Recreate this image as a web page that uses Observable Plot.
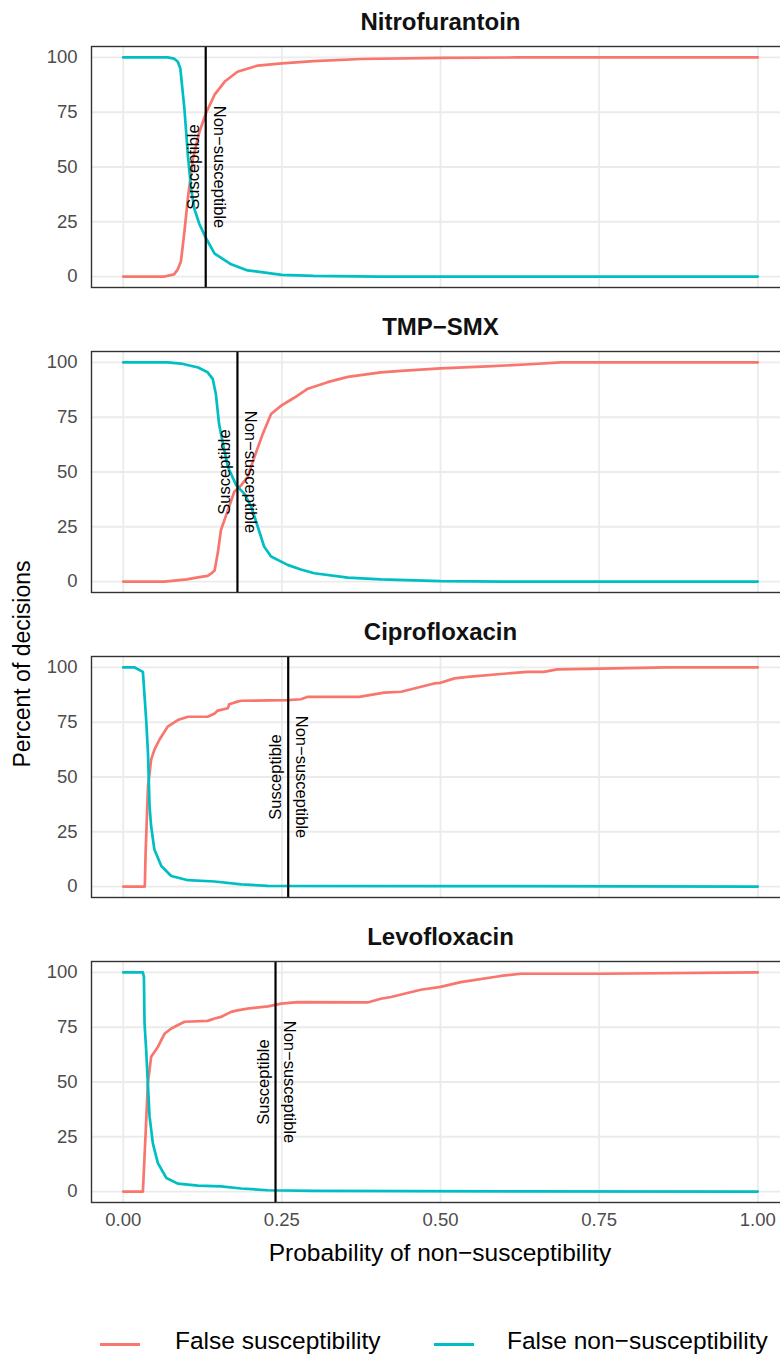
<!DOCTYPE html>
<html>
<head>
<meta charset="utf-8">
<script src="https://cdn.jsdelivr.net/npm/d3@7"></script>
<script src="https://cdn.jsdelivr.net/npm/@observablehq/plot@0.6"></script>
<style>
  html, body { margin: 0; padding: 0; background: white; }
  #wrap { position: relative; width: 780px; height: 1355px; overflow: hidden; font-family: "Liberation Sans", Arial, sans-serif; background: white; }
  #chart { position: absolute; left: 0; top: 0; }
  .lab { position: absolute; white-space: nowrap; color: #000; line-height: 1; }
  .sw { position: absolute; height: 3px; }
</style>
</head>
<body>
<div id="wrap">
  <div id="chart"></div>
  <div class="lab" id="ylab" style="left:22px; top:664px; font-size:23px; transform: translate(-50%,-50%) rotate(-90deg);">Percent of decisions</div>
  <div class="lab" id="xlab" style="left:440px; top:1253px; font-size:24.5px; transform: translate(-50%,-50%);">Probability of non−susceptibility</div>
  <div class="sw" style="left:100px; top:1343px; width:40px; background:#F8766D;"></div>
  <div class="lab" style="left:175px; top:1341px; font-size:24.5px; transform: translateY(-50%);">False susceptibility</div>
  <div class="sw" style="left:434px; top:1343px; width:40px; background:#00BFC4;"></div>
  <div class="lab" style="left:507px; top:1341px; font-size:24.5px; transform: translateY(-50%);">False non−susceptibility</div>
</div>
<script>
// ---------- data ----------
const drugs = ["Nitrofurantoin", "TMP−SMX", "Ciprofloxacin", "Levofloxacin"];
const thresholds = [0.13, 0.18, 0.26, 0.24];
const seriesNames = ["False susceptibility", "False non−susceptibility"];
const seriesColors = ["#F8766D", "#00BFC4"];
const xTicks = [0, 0.25, 0.5, 0.75, 1];
const yTicks = [0, 25, 50, 75, 100];

// [probability threshold, percent]
const nitroFalseSus = [[0,0],[0.065,0],[0.08,1],[0.086,3.3],[0.091,7],[0.0966,21],[0.102,36],[0.11,54],[0.12,66],[0.131,75],[0.144,83],[0.16,89],[0.18,93.5],[0.212,96.3],[0.25,97.3],[0.3,98.3],[0.375,99.3],[0.5,99.8],[0.62,100],[1,100]];
const nitroFalseNonSus = [[0,100],[0.07,100],[0.08,99.5],[0.086,98],[0.09,95],[0.0966,76],[0.102,55],[0.107,40],[0.112,31],[0.12,24],[0.13,17.7],[0.144,10.5],[0.17,5.6],[0.196,2.8],[0.25,0.8],[0.3,0.3],[0.4,0],[1,0]];

const tmpFalseSus = [[0,0],[0.065,0],[0.1,1],[0.12,2],[0.133,2.6],[0.14,4],[0.144,5],[0.149,13],[0.154,23.5],[0.165,32.6],[0.175,41],[0.186,44],[0.196,47.7],[0.207,57],[0.22,67.5],[0.233,76.5],[0.249,80.3],[0.27,84],[0.291,88],[0.322,91],[0.354,93.4],[0.406,95.5],[0.438,96.2],[0.5,97.3],[0.574,98.2],[0.648,99.3],[0.69,100],[1,100]];
const tmpFalseNonSus = [[0,100],[0.07,100],[0.091,99.5],[0.118,97.7],[0.133,95.5],[0.141,92.5],[0.146,85.6],[0.151,72],[0.157,63],[0.165,52.3],[0.178,44],[0.191,40],[0.202,34],[0.212,25],[0.222,16],[0.233,11.4],[0.259,7.6],[0.28,5.5],[0.301,3.8],[0.354,1.8],[0.406,1],[0.5,0.2],[0.6,0],[1,0]];

const ciproFalseSus = [[0,0],[0.034,0],[0.0353,15.5],[0.039,45.7],[0.044,57.9],[0.049,62.4],[0.057,67],[0.07,73],[0.086,76],[0.102,77.5],[0.133,77.5],[0.144,79],[0.149,80.3],[0.165,81.4],[0.167,83.2],[0.18,84.4],[0.186,84.8],[0.259,85.1],[0.28,85.5],[0.291,86.6],[0.372,86.6],[0.411,88.5],[0.438,88.9],[0.49,92.7],[0.5,93],[0.522,95],[0.543,95.7],[0.595,97],[0.637,98],[0.663,98],[0.684,99.1],[0.753,99.5],[0.857,100],[1,100]];
const ciproFalseNonSus = [[0,100],[0.018,100],[0.031,98],[0.0362,76],[0.039,61],[0.0415,36.6],[0.044,27.5],[0.049,17],[0.06,9.4],[0.0756,4.8],[0.102,2.9],[0.144,2.3],[0.186,1],[0.228,0.3],[0.5,0.2],[1,0]];

const levoFalseSus = [[0,0],[0.031,0],[0.0336,16],[0.036,31],[0.0388,49.4],[0.044,61.5],[0.0546,66],[0.065,72],[0.0756,74.4],[0.0966,77.5],[0.133,77.9],[0.144,79],[0.154,79.7],[0.17,82],[0.18,82.7],[0.196,83.5],[0.228,84.5],[0.249,85.8],[0.275,86.5],[0.385,86.3],[0.406,88],[0.422,88.8],[0.469,92.1],[0.5,93.4],[0.532,95.6],[0.595,98.4],[0.627,99.4],[0.753,99.4],[1,100]];
const levoFalseNonSus = [[0,100],[0.031,100],[0.0326,98],[0.0336,76.7],[0.0362,64.5],[0.0388,49.4],[0.0415,34.3],[0.0467,22],[0.0546,13],[0.068,6.2],[0.086,3.6],[0.118,2.7],[0.154,2.4],[0.186,1.4],[0.228,0.6],[0.3,0.3],[0.6,0.1],[1,0]];

// ---------- tables ----------
const curves = [
  [drugs[0], seriesNames[0], nitroFalseSus], [drugs[0], seriesNames[1], nitroFalseNonSus],
  [drugs[1], seriesNames[0], tmpFalseSus],   [drugs[1], seriesNames[1], tmpFalseNonSus],
  [drugs[2], seriesNames[0], ciproFalseSus], [drugs[2], seriesNames[1], ciproFalseNonSus],
  [drugs[3], seriesNames[0], levoFalseSus],  [drugs[3], seriesNames[1], levoFalseNonSus]
];
const rows = curves.flatMap(([drug, series, pts]) => pts.map(([p, pct]) => ({drug, series, p, pct})));
const thr = drugs.map((drug, i) => ({drug, t: thresholds[i]}));

const chart = Plot.plot({
  width: 780,
  height: 1262,
  marginLeft: 91,
  marginRight: -9,
  marginTop: 44,
  marginBottom: 58,
  style: {fontFamily: "Liberation Sans, Arial, sans-serif", background: "white"},
  x: {domain: [-0.05, 1.05]},
  y: {domain: [-5, 105]},
  fy: {domain: drugs, paddingInner: 0.209, paddingOuter: 0, axis: null},
  color: {domain: seriesNames, range: seriesColors},
  marks: [
    Plot.gridX({ticks: xTicks, stroke: "#ebebeb", strokeOpacity: 1, strokeWidth: 1.8}),
    Plot.gridY({ticks: yTicks, stroke: "#ebebeb", strokeOpacity: 1, strokeWidth: 1.8}),
    Plot.axisX({ticks: xTicks, tickFormat: d3.format(".2f"), tickSize: 0, tickPadding: 10, fontSize: 18.5, fill: "#4d4d4d", label: null}),
    Plot.axisY({ticks: yTicks, tickSize: 0, tickPadding: 14, fontSize: 18.5, fill: "#4d4d4d", label: null}),
    Plot.line(rows, {x: "p", y: "pct", z: "series", stroke: "series", fy: "drug", strokeWidth: 2.7}),
    Plot.ruleX(thr, {x: "t", fy: "drug", stroke: "black", strokeWidth: 2.2}),
    Plot.text(thr, {x: "t", y: () => 50, fy: "drug", text: () => "Susceptible", rotate: -90, dx: -7, lineAnchor: "bottom", fontSize: 16.5, fill: "black"}),
    Plot.text(thr, {x: "t", y: () => 50, fy: "drug", text: () => "Non−susceptible", rotate: 90, dx: 8, lineAnchor: "bottom", fontSize: 16.5, fill: "black"}),
    Plot.text(drugs, {fy: d => d, text: d => d, frameAnchor: "top", lineAnchor: "bottom", dy: -17, fontSize: 24, fontWeight: "bold", fill: "#111"}),
    Plot.frame({stroke: "#333", strokeWidth: 1.4})
  ]
});
document.getElementById("chart").appendChild(chart);
</script>
</body>
</html>
